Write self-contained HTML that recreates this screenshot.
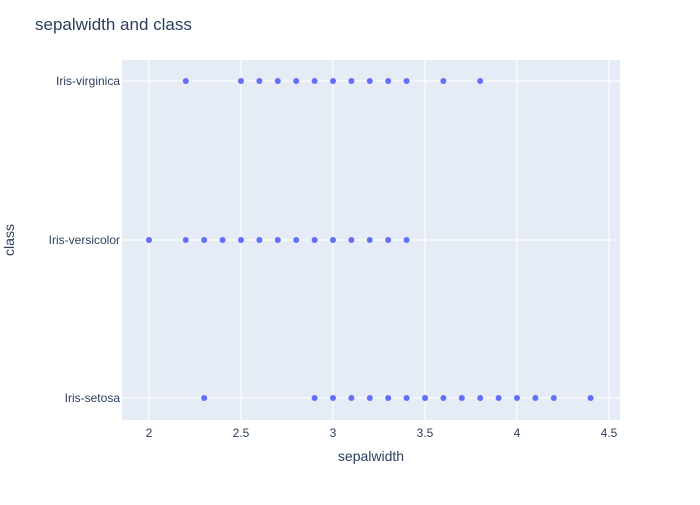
<!DOCTYPE html>
<html><head><meta charset="utf-8"><style>
body{margin:0;background:#fff;font-family:"Liberation Sans",sans-serif}
</style></head><body>
<svg id="c" width="700" height="500" xmlns="http://www.w3.org/2000/svg">
<rect width="700" height="500" fill="#fff"/>
<rect x="122" y="60" width="498" height="360" fill="#e5ecf6"/>
<g id="grid"></g>
<g id="pts"></g>
<text x="35" y="30" font-size="17" fill="#2a3f5f">sepalwidth and class</text>
<text x="371" y="461" font-size="14" fill="#2a3f5f" text-anchor="middle">sepalwidth</text>
<text transform="translate(14,240) rotate(-90)" font-size="14" fill="#2a3f5f" text-anchor="middle">class</text>
</svg>
<script>
const categories = ["Iris-setosa","Iris-versicolor","Iris-virginica"];
const xTicks = [2,2.5,3,3.5,4,4.5];
const xTickLabels = ["2","2.5","3","3.5","4","4.5"];
const virginica = [2.2,2.5,2.6,2.7,2.8,2.9,3.0,3.1,3.2,3.3,3.4,3.6,3.8];
const versicolor = [2.0,2.2,2.3,2.4,2.5,2.6,2.7,2.8,2.9,3.0,3.1,3.2,3.3,3.4];
const setosa = [2.3,2.9,3.0,3.1,3.2,3.3,3.4,3.5,3.6,3.7,3.8,3.9,4.0,4.1,4.2,4.4];
const NS="http://www.w3.org/2000/svg";
function xs(v){return 149+(v-2)*184;}
function ys(c){return {"Iris-setosa":398,"Iris-versicolor":240,"Iris-virginica":81}[c];}
const grid=document.getElementById('grid'), pts=document.getElementById('pts');
xTicks.forEach((t,i)=>{
 const l=document.createElementNS(NS,'line');
 l.setAttribute('x1',xs(t));l.setAttribute('x2',xs(t));l.setAttribute('y1',60);l.setAttribute('y2',420);
 l.setAttribute('stroke','#fff');l.setAttribute('stroke-width','1');
 
 
 grid.appendChild(l);
 const tx=document.createElementNS(NS,'text');
 tx.setAttribute('x',xs(t));tx.setAttribute('y',437);tx.setAttribute('text-anchor','middle');
 tx.setAttribute('font-size','12');tx.setAttribute('fill','#2a3f5f');tx.textContent=xTickLabels[i];
 
 
 grid.appendChild(tx);
});
categories.forEach(c=>{
 const l=document.createElementNS(NS,'line');
 l.setAttribute('x1',122);l.setAttribute('x2',620);l.setAttribute('y1',ys(c));l.setAttribute('y2',ys(c));
 l.setAttribute('stroke','#fff');l.setAttribute('stroke-width','1');
 
 
 grid.appendChild(l);
 const tx=document.createElementNS(NS,'text');
 tx.setAttribute('x',120);tx.setAttribute('y',ys(c)+4);tx.setAttribute('text-anchor','end');
 tx.setAttribute('font-size','12');tx.setAttribute('fill','#2a3f5f');tx.textContent=c;
 
 
 grid.appendChild(tx);
});
[["Iris-setosa",setosa],["Iris-versicolor",versicolor],["Iris-virginica",virginica]].forEach(([c,arr])=>{
 arr.forEach(v=>{
  const p=document.createElementNS(NS,'circle');
  p.setAttribute('cx',xs(v));p.setAttribute('cy',ys(c));p.setAttribute('r',3);
  p.setAttribute('fill','#636efa');
  
  
  pts.appendChild(p);
 });
});
</script>
</body></html>
